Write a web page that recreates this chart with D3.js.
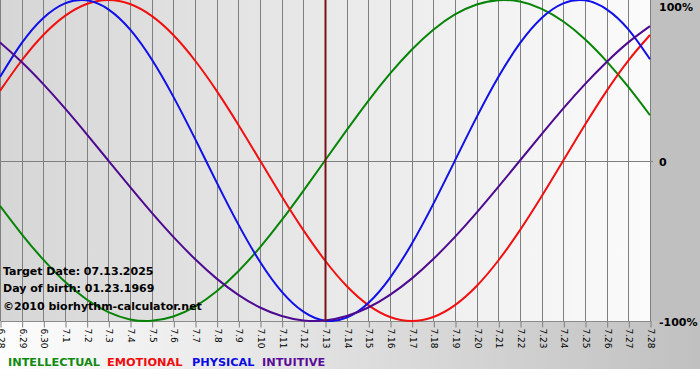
<!DOCTYPE html>
<html>
<head>
<meta charset="utf-8">
<script src="https://d3js.org/d3.v7.min.js"></script>
<style>
  body { margin: 0; background: #fff; }
  svg { display: block; }
</style>
</head>
<body>
<div id="chart"></div>
<script>
// days shown on the x axis
var days = ["6.28", "6.29", "6.30", "7.1", "7.2", "7.3", "7.4", "7.5", "7.6", "7.7",
  "7.8", "7.9", "7.10", "7.11", "7.12", "7.13", "7.14", "7.15", "7.16", "7.17",
  "7.18", "7.19", "7.20", "7.21", "7.22", "7.23", "7.24", "7.25", "7.26", "7.27", "7.28"];

// cycle values, -1 .. 1, one per day
var intellectual = [-0.282, -0.458, -0.618, -0.756, -0.866, -0.945, -0.990, -0.999, -0.972, -0.910,
  -0.815, -0.690, -0.541, -0.372, -0.189, 0, 0.189, 0.372, 0.541, 0.690,
  0.815, 0.910, 0.972, 0.999, 0.990, 0.945, 0.866, 0.756, 0.618, 0.458, 0.282];
var emotional = [0.434, 0.623, 0.782, 0.901, 0.975, 1, 0.975, 0.901, 0.782, 0.623,
  0.434, 0.223, 0, -0.223, -0.434, -0.623, -0.782, -0.901, -0.975, -1,
  -0.975, -0.901, -0.782, -0.623, -0.434, -0.223, 0, 0.223, 0.434, 0.623, 0.782];
var physical = [0.520, 0.731, 0.888, 0.979, 0.998, 0.942, 0.817, 0.631, 0.398, 0.136,
  -0.136, -0.398, -0.631, -0.817, -0.942, -0.998, -0.979, -0.888, -0.731, -0.520,
  -0.270, 0, 0.270, 0.520, 0.731, 0.888, 0.979, 0.998, 0.942, 0.817, 0.631];
var intuitive = [0.736, 0.614, 0.476, 0.325, 0.165, 0, -0.165, -0.325, -0.476, -0.614,
  -0.736, -0.837, -0.916, -0.969, -0.997, -0.997, -0.969, -0.916, -0.837, -0.736,
  -0.614, -0.476, -0.325, -0.165, 0, 0.165, 0.325, 0.476, 0.614, 0.736, 0.837];

var yTicks = [1, 0, -1];
var yTickLabels = ["100%", "0", "-100%"];
var targetDay = "7.13";
var infoLines = ["Target Date: 07.13.2025", "Day of birth: 01.23.1969", "\u00a92010 biorhythm-calculator.net"];

var series = [
  { label: "INTELLECTUAL", values: intellectual, color: "#078407", legend: "#128a12" },
  { label: "EMOTIONAL", values: emotional, color: "#f01010", legend: "#f00c0c" },
  { label: "PHYSICAL", values: physical, color: "#1010e8", legend: "#0c0ce0" },
  { label: "INTUITIVE", values: intuitive, color: "#4e0a90", legend: "#5a0c98" }
];

var width = 700, height = 380,
    plotW = 651, plotH = 321, bandBottom = 369;

var svg = d3.select("#chart").append("svg")
    .attr("width", width)
    .attr("height", height);

var defs = svg.append("defs");
var g1 = defs.append("linearGradient").attr("id", "plotBg");
g1.append("stop").attr("offset", "0%").attr("stop-color", "#d6d6d6");
g1.append("stop").attr("offset", "100%").attr("stop-color", "#fbfbfb");
var g2 = defs.append("linearGradient").attr("id", "bandBg");
g2.append("stop").attr("offset", "0%").attr("stop-color", "#fdfdfd");
g2.append("stop").attr("offset", "100%").attr("stop-color", "#c0c0c0");
defs.append("clipPath").attr("id", "clip")
  .append("rect").attr("width", plotW).attr("height", plotH + 1);

// backgrounds
svg.append("rect").attr("width", width).attr("height", bandBottom).attr("fill", "url(#bandBg)");
svg.append("rect").attr("x", plotW).attr("width", width - plotW).attr("height", plotH).attr("fill", "#c0c0c0");
svg.append("rect").attr("width", plotW).attr("height", plotH).attr("fill", "url(#plotBg)");

var x = d3.scalePoint().domain(days).range([0, 650]);
var y = d3.scaleLinear().domain([-1, 1]).range([plotH, 0]);

// vertical grid
svg.append("g").selectAll("line").data(days).enter().append("line")
    .attr("x1", function (d) { return Math.round(x(d)) + 0.5; })
    .attr("x2", function (d) { return Math.round(x(d)) + 0.5; })
    .attr("y1", 0).attr("y2", plotH)
    .attr("stroke", "#7f7f7f").attr("stroke-width", 1);

// zero line
svg.append("line")
    .attr("x1", 0).attr("x2", plotW + 2)
    .attr("y1", Math.round(y(0)) + 0.5).attr("y2", Math.round(y(0)) + 0.5)
    .attr("stroke", "#7f7f7f");

// x axis
var xAxis = svg.append("g")
    .attr("transform", "translate(0.5," + (plotH + 0.5) + ")")
    .call(d3.axisBottom(x).tickSize(6).tickSizeOuter(0));
xAxis.select(".domain").attr("stroke", "#8a8a8a").attr("d", "M0,0H" + plotW);
xAxis.selectAll(".tick line").attr("stroke", "#7f7f7f");
xAxis.selectAll(".tick text")
    .attr("transform", "rotate(90)")
    .attr("x", 7).attr("y", 0).attr("dy", "0.35em")
    .style("text-anchor", "start")
    .attr("font-family", "DejaVu Sans, Verdana, sans-serif")
    .attr("font-size", "9px")
    .attr("fill", "#000");

// curves
var line = d3.line()
    .curve(d3.curveNatural)
    .x(function (d, i) { return x(days[i]); })
    .y(function (d) { return y(d); });

svg.append("g").attr("clip-path", "url(#clip)")
  .selectAll("path").data(series).enter().append("path")
    .attr("d", function (d) { return line(d.values); })
    .attr("fill", "none")
    .attr("stroke", function (d) { return d.color; })
    .attr("stroke-width", 2);

// target day marker
svg.append("line")
    .attr("x1", x(targetDay) + 0.5).attr("x2", x(targetDay) + 0.5)
    .attr("y1", 0).attr("y2", plotH)
    .attr("stroke", "#7a1416").attr("stroke-width", 2);

// right labels
svg.append("g").selectAll("text").data(yTicks).enter().append("text")
    .attr("x", 659)
    .attr("y", function (d) { return Math.max(11, y(d) + 5); })
    .attr("font-family", "DejaVu Sans, Verdana, sans-serif")
    .attr("font-weight", "bold")
    .attr("font-size", "11px")
    .attr("fill", "#000")
    .text(function (d, i) { return yTickLabels[i]; });

// info text
svg.append("g").selectAll("text").data(infoLines).enter().append("text")
    .attr("x", 3)
    .attr("y", function (d, i) { return [275, 292, 310][i]; })
    .attr("font-family", "DejaVu Sans, Verdana, sans-serif")
    .attr("font-weight", "bold")
    .attr("font-size", "11px")
    .attr("fill", "#000")
    .text(function (d) { return d; });

// legend
var lx = [8, 107, 192, 262];
svg.append("g").selectAll("text").data(series).enter().append("text")
    .attr("x", function (d, i) { return lx[i]; })
    .attr("y", 366)
    .attr("font-family", "DejaVu Sans, Verdana, sans-serif")
    .attr("font-weight", "bold")
    .attr("font-size", "11.3px")
    .attr("fill", function (d) { return d.legend; })
    .text(function (d) { return d.label; });
</script>
</body>
</html>
